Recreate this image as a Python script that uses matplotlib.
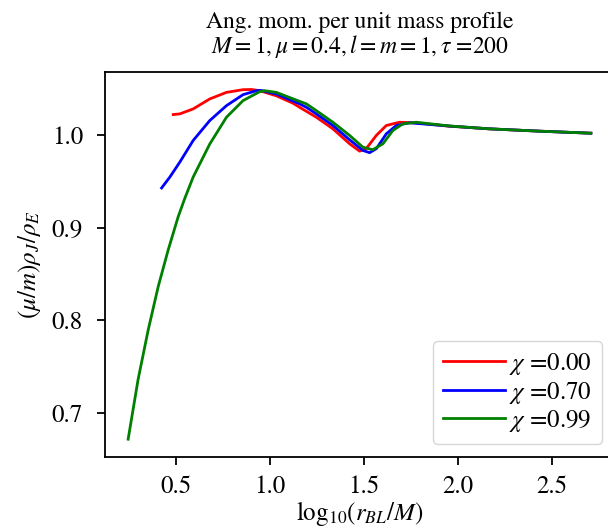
import numpy as np
import matplotlib
matplotlib.use("Agg")
import matplotlib.pyplot as plt

plt.rcParams['font.family'] = ['STIXGeneral', 'DejaVu Serif']
plt.rcParams['mathtext.fontset'] = 'stix'
plt.rcParams['font.size'] = 18
plt.rcParams['axes.linewidth'] = 1.3
plt.rcParams['xtick.major.width'] = 1.3
plt.rcParams['ytick.major.width'] = 1.3
plt.rcParams['xtick.major.size'] = 5.8
plt.rcParams['ytick.major.size'] = 5.8

# values
x_red = [0.485, 0.52, 0.591, 0.679, 0.768, 0.856, 0.90, 0.945, 1.033, 1.122, 1.157,
         1.193, 1.246, 1.334, 1.423, 1.476, 1.511, 1.565, 1.618, 1.688, 1.777, 1.954,
         2.166, 2.432, 2.706]
y_red = [1.0218, 1.0225, 1.0279, 1.0386, 1.0457, 1.0486, 1.0488, 1.0475, 1.042, 1.034,
         1.0296, 1.0253, 1.0189, 1.0064, 0.9903, 0.9824, 0.985, 0.9993, 1.01, 1.0135,
         1.0129, 1.0092, 1.0064, 1.0039, 1.0017]

x_blue = [0.423, 0.467, 0.52, 0.591, 0.679, 0.768, 0.856, 0.927, 0.95, 1.033, 1.157,
          1.193, 1.246, 1.334, 1.423, 1.493, 1.529, 1.565, 1.618, 1.671, 1.741, 1.954,
          2.166, 2.432, 2.706]
y_blue = [0.9427, 0.9545, 0.9706, 0.9939, 1.0153, 1.0314, 1.0432, 1.0475, 1.0478, 1.044,
          1.0333, 1.0296, 1.0225, 1.01, 0.9946, 0.9832, 0.9807, 0.985, 1.001, 1.01,
          1.0129, 1.0094, 1.0064, 1.0039, 1.0017]

x_green = [0.245, 0.298, 0.352, 0.405, 0.458, 0.511, 0.546, 0.591, 0.679, 0.768, 0.856,
           0.945, 0.97, 1.033, 1.157, 1.193, 1.246, 1.334, 1.423, 1.493, 1.546, 1.60,
           1.653, 1.706, 1.777, 1.954, 2.166, 2.432, 2.706]
y_green = [0.672, 0.7364, 0.79, 0.8365, 0.8759, 0.9116, 0.9313, 0.9545, 0.99, 1.0189,
           1.0368, 1.0465, 1.0475, 1.0457, 1.036, 1.0333, 1.026, 1.0135, 0.9993, 0.9867,
           0.9839, 0.9903, 1.0046, 1.0118, 1.0135, 1.0095, 1.0064, 1.0039, 1.0017]

labels = [r'$\chi$ =0.00', r'$\chi$ =0.70', r'$\chi$ =0.99']

fig = plt.figure(figsize=(6.08, 5.31), dpi=100)
ax = fig.add_axes([105 / 608, 74.3 / 531, 509 / 608, 384.7 / 531])

ax.plot(x_red, y_red, color='r', lw=2, label=labels[0])
ax.plot(x_blue, y_blue, color='b', lw=2, label=labels[1])
ax.plot(x_green, y_green, color='g', lw=2, label=labels[2])

ax.set_xticks([0.5, 1.0, 1.5, 2.0, 2.5])
ax.set_yticks([0.7, 0.8, 0.9, 1.0])
ax.tick_params(axis='y', pad=10)
ax.tick_params(axis='x', pad=7.5)
ax.set_xlabel(r'$\mathrm{log}_{10}(r_{BL}/M)$', labelpad=0)
ax.set_ylabel(r'$(\mu/m)\rho_J/\rho_E$', labelpad=6)
ax.set_title('Ang. mom. per unit mass profile\n' + r'$M=1,\mu=0.4,l=m=1,\tau$ =200',
             fontsize=17, pad=14, linespacing=1.0)
ax.legend(loc='lower right', handlelength=2.5, handletextpad=0.15, labelspacing=0.1)

fig.savefig('out.png', dpi=100)
